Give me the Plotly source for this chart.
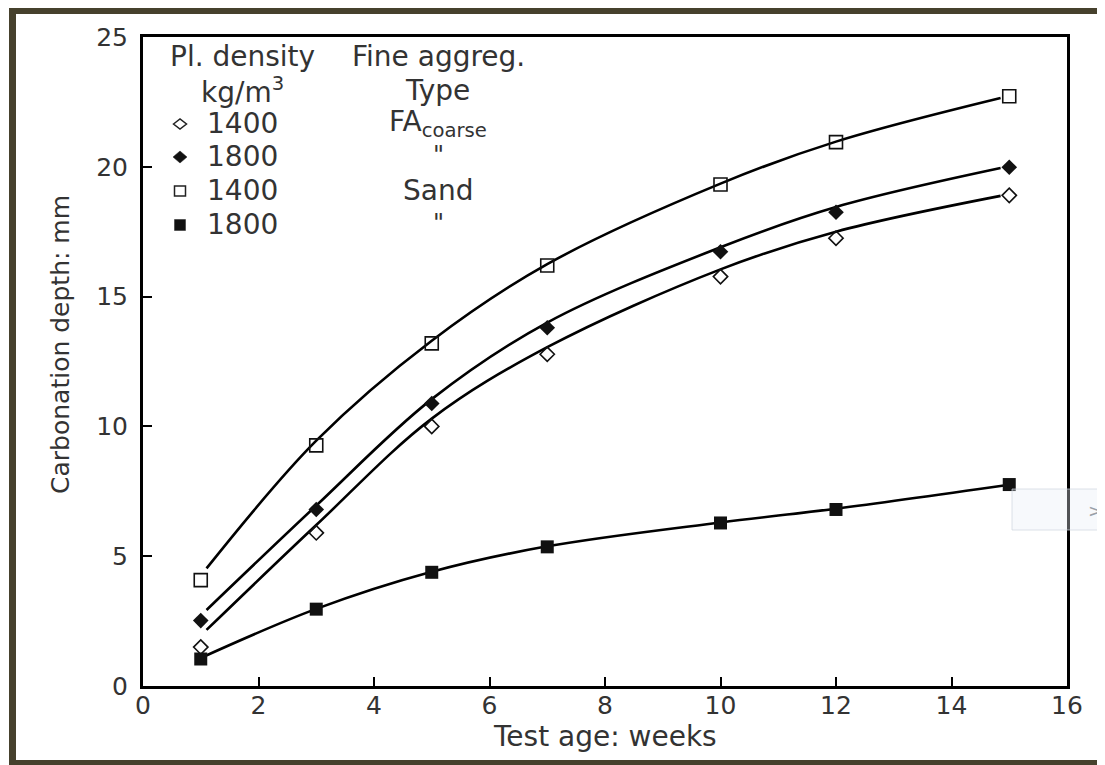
import plotly.graph_objects as go

# ---------------- data ----------------
weeks = [1, 3, 5, 7, 10, 12, 15]

fa1400_pts = [1.5, 5.9, 10.0, 12.78, 15.77, 17.25, 18.9]     # open diamond
fa1800_pts = [2.52, 6.8, 10.88, 13.8, 16.73, 18.25, 19.98]   # filled diamond
sd1400_pts = [4.08, 9.27, 13.2, 16.2, 19.32, 20.95, 22.72]   # open square
sd1800_pts = [1.04, 2.96, 4.38, 5.36, 6.28, 6.8, 7.76]       # filled square

# fitted curves as drawn in the picture
curve_x = [1.1, 3, 5, 7, 10, 12, 14.85]
fa1400_curve = [2.16, 6.2, 10.3, 13.05, 16.05, 17.5, 18.88]
fa1800_curve = [2.93, 6.95, 11.05, 14.0, 16.9, 18.45, 19.95]
sd1400_curve = [4.53, 9.45, 13.3, 16.25, 19.35, 20.97, 22.65]
sd1800_curve_x = [1.0, 3, 5, 7, 10, 12, 15]
sd1800_curve = [1.08, 2.97, 4.4, 5.38, 6.3, 6.83, 7.75]

x_ticks = [0, 2, 4, 6, 8, 10, 12, 14, 16]
y_ticks = [0, 5, 10, 15, 20, 25]

legend_density = ["1400", "1800", "1400", "1800"]
legend_type = ["FA<sub>coarse</sub>", '"', "Sand", '"']

# ---------------- layout geometry ----------------
OFF = 8                      # page body margin of the browser
W, H = 1105 - OFF, 765 - OFF
ML, MR, MT, MB = 135, 38, 29, 79
PW, PH = W - ML - MR, H - MT - MB

def px(x):                   # page pixel -> paper
    return (x - OFF - ML) / PW

def py(y):
    return (H - MB - (y - OFF)) / PH

TXT = "#333333"
FONT = "DejaVu Sans"

fig = go.Figure()

curves = [(curve_x, fa1400_curve), (curve_x, fa1800_curve),
          (curve_x, sd1400_curve), (sd1800_curve_x, sd1800_curve)]
for cx, cy in curves:
    fig.add_trace(go.Scatter(x=cx, y=cy, mode="lines",
                             line=dict(color="black", width=2.6, shape="spline", smoothing=1.0),
                             showlegend=False, hoverinfo="skip"))

markers = [
    (fa1400_pts, "diamond-open", 11, 1.6),
    (fa1800_pts, "diamond", 12, 0),
    (sd1400_pts, "square-open", 13, 1.6),
    (sd1800_pts, "square", 13, 0),
]
for ys, sym, size, lw in markers:
    fig.add_trace(go.Scatter(x=weeks, y=ys, mode="markers",
                             marker=dict(symbol=sym, size=size, color="#111111",
                                         line=dict(color="#111111", width=lw)),
                             showlegend=False))

shapes = []
FRAME = "#46412d"
# outer picture frame (page pixel coordinates)
for x0, y0, x1, y1 in [(9, 6, 1105, 14), (9, 760, 1105, 765), (9, 6, 16, 765), (1100, 6, 1105, 765)]:
    shapes.append(dict(type="rect", xref="paper", yref="paper", layer="below",
                       x0=px(x0), x1=px(x1), y0=py(y1), y1=py(y0),
                       fillcolor=FRAME, line=dict(width=0)))
# faint UI box at the right edge
shapes.append(dict(type="rect", xref="paper", yref="paper", layer="above",
                   x0=px(1012), x1=px(1099), y0=py(530), y1=py(489),
                   fillcolor="rgba(232,237,245,0.35)", line=dict(color="rgba(205,212,222,0.7)", width=1)))

# legend symbols
def poly(pts, fill, line_w):
    path = "M " + " L ".join(f"{px(a)},{py(b)}" for a, b in pts) + " Z"
    return dict(type="path", xref="paper", yref="paper", path=path,
                fillcolor=fill, line=dict(color="#222222", width=line_w))

sym_x = 180
rows_y = [124, 157, 191, 225]
cx, cy = sym_x, rows_y[0]
shapes.append(poly([(cx - 6.5, cy), (cx, cy - 5), (cx + 6.5, cy), (cx, cy + 5)], "white", 1.5))
cx, cy = sym_x, rows_y[1]
shapes.append(poly([(cx - 7, cy), (cx, cy - 6), (cx + 7, cy), (cx, cy + 6)], "#111111", 0.5))
cx, cy = sym_x, rows_y[2]
shapes.append(poly([(cx - 5.5, cy - 5), (cx + 5.5, cy - 5), (cx + 5.5, cy + 5), (cx - 5.5, cy + 5)], "white", 1.5))
cx, cy = sym_x, rows_y[3]
shapes.append(poly([(cx - 5.5, cy - 5.5), (cx + 5.5, cy - 5.5), (cx + 5.5, cy + 5.5), (cx - 5.5, cy + 5.5)], "#111111", 0.5))

annotations = []
def ann(text, x, y, size=28, xanchor="center", yanchor="middle", color=TXT, angle=0):
    annotations.append(dict(text=text, x=px(x), y=py(y), xref="paper", yref="paper",
                            xanchor=xanchor, yanchor=yanchor, showarrow=False,
                            textangle=angle, font=dict(family=FONT, size=size, color=color)))

ann("Pl. density", 242, 56)
ann("Fine aggreg.", 438, 56)
ann("kg/m<sup>3</sup>", 242, 90)
ann("Type", 437, 90)
for i, (d, t) in enumerate(zip(legend_density, legend_type)):
    ann(d, 205, rows_y[i] - 1, xanchor="left")
    if t == '"':
        ann(t, 438, rows_y[i] - 18, size=24, yanchor="top")
    else:
        ann(t, 438, rows_y[i] - 1)

ann("Carbonation depth: mm", 60, 345, size=25, angle=-90)
ann("Test age: weeks", 605, 736, size=28)
ann("&gt;", 1095, 510, size=18, color="#9aa0a8")

fig.update_layout(
    width=W, height=H,
    margin=dict(l=ML, r=MR, t=MT, b=MB, pad=0),
    paper_bgcolor="white", plot_bgcolor="white",
    showlegend=False,
    shapes=shapes, annotations=annotations,
    xaxis=dict(range=[0, 16], tickvals=x_ticks, ticktext=[str(v) for v in x_ticks],
               showgrid=False, zeroline=False, showline=True, mirror=True,
               linecolor="black", linewidth=3, ticks="inside", ticklen=9, tickwidth=2,
               tickcolor="black", ticklabelstandoff=-5,
               tickfont=dict(family=FONT, size=25, color=TXT)),
    yaxis=dict(range=[0, 25], tickvals=y_ticks, ticktext=[str(v) for v in y_ticks],
               showgrid=False, zeroline=False, showline=True, mirror=True,
               linecolor="black", linewidth=3, ticks="inside", ticklen=9, tickwidth=2,
               tickcolor="black", ticklabelstandoff=7,
               tickfont=dict(family=FONT, size=25, color=TXT)),
)

fig.write_html("out.html")
